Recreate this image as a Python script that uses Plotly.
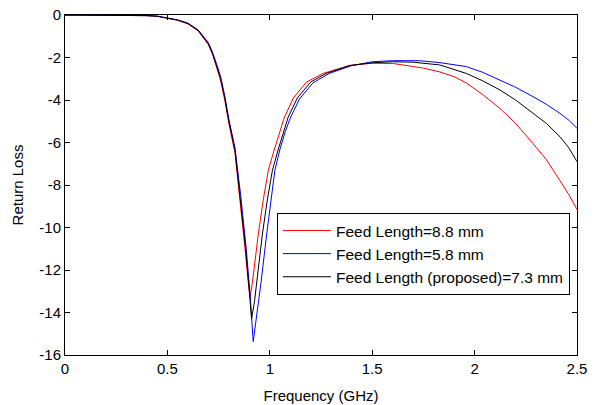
import plotly.graph_objects as go

# Feed Length = 8.8 mm (red)
freq_88 = [0, 0.3, 0.4, 0.45, 0.5, 0.55, 0.6, 0.65, 0.7, 0.72, 0.74, 0.76, 0.78, 0.8,
           0.83, 0.855, 0.879, 0.895, 0.903, 0.915, 0.944, 0.968, 0.993, 1.02, 1.045,
           1.07, 1.115, 1.18, 1.26, 1.39, 1.5, 1.6, 1.67, 1.75, 1.83, 1.9, 1.96, 2.04,
           2.124, 2.2, 2.285, 2.35, 2.417, 2.46, 2.5]
rl_88 = [0, 0, -0.03, -0.06, -0.15, -0.25, -0.42, -0.75, -1.4, -1.85, -2.45, -3.1, -4.0, -5.1,
         -6.5, -8.7, -11.0, -12.6, -13.3, -12.6, -10.3, -8.7, -7.3, -6.4, -5.6,
         -4.85, -3.9, -3.15, -2.75, -2.37, -2.27, -2.28, -2.38, -2.5, -2.68, -2.9, -3.2, -3.75,
         -4.4, -5.1, -6.05, -6.8, -7.8, -8.45, -9.15]

# Feed Length = 5.8 mm (blue)
freq_58 = [0, 0.3, 0.4, 0.45, 0.5, 0.55, 0.6, 0.65, 0.7, 0.72, 0.74, 0.76, 0.78, 0.8,
           0.83, 0.858, 0.885, 0.905, 0.919, 0.935, 0.957, 0.985, 1.005, 1.025, 1.05,
           1.075, 1.1, 1.145, 1.21, 1.29, 1.4, 1.5, 1.6, 1.73, 1.83, 1.96, 2.04,
           2.124, 2.2, 2.285, 2.35, 2.417, 2.46, 2.5]
rl_58 = [0, 0, -0.03, -0.05, -0.13, -0.23, -0.38, -0.7, -1.3, -1.75, -2.3, -2.9, -3.8, -4.9,
         -6.25, -8.5, -11.0, -13.3, -15.37, -14.3, -12.6, -10.3, -8.7, -7.3, -6.3,
         -5.5, -4.85, -3.95, -3.2, -2.75, -2.38, -2.2, -2.15, -2.15, -2.24, -2.43, -2.7,
         -3.06, -3.4, -3.84, -4.2, -4.63, -4.95, -5.33]

# Feed Length (proposed) = 7.3 mm (black)
freq_73 = [0, 0.3, 0.4, 0.45, 0.5, 0.55, 0.6, 0.65, 0.7, 0.72, 0.74, 0.76, 0.78, 0.8,
           0.83, 0.855, 0.882, 0.9, 0.911, 0.925, 0.935, 0.964, 0.988, 1.013, 1.042,
           1.066, 1.09, 1.135, 1.2, 1.275, 1.39, 1.5, 1.6, 1.7, 1.83, 1.96, 2.04,
           2.124, 2.2, 2.285, 2.35, 2.417, 2.46, 2.5]
rl_73 = [0, 0, -0.03, -0.06, -0.14, -0.24, -0.4, -0.72, -1.35, -1.8, -2.4, -3.0, -3.9, -5.0,
         -6.35, -8.5, -11.0, -13.0, -14.3, -13.5, -12.6, -10.3, -8.7, -7.3, -6.3,
         -5.5, -4.8, -3.9, -3.15, -2.75, -2.38, -2.25, -2.2, -2.22, -2.35, -2.75, -3.1,
         -3.53, -4.0, -4.62, -5.1, -5.73, -6.25, -6.9]

x_tick_vals = [0, 0.5, 1, 1.5, 2, 2.5]
x_tick_text = ["0", "0.5", "1", "1.5", "2", "2.5"]
y_tick_vals = [0, -2, -4, -6, -8, -10, -12, -14, -16]
y_tick_text = ["0", "-2", "-4", "-6", "-8", "-10", "-12", "-14", "-16"]

FONT = "Liberation Sans, Arial, sans-serif"

fig = go.Figure()
fig.add_trace(go.Scatter(x=freq_88, y=rl_88, mode="lines", name="Feed Length=8.8 mm",
                         line=dict(color="#ff0000", width=1)))
fig.add_trace(go.Scatter(x=freq_58, y=rl_58, mode="lines", name="Feed Length=5.8 mm",
                         line=dict(color="#0000ff", width=1)))
fig.add_trace(go.Scatter(x=freq_73, y=rl_73, mode="lines", name="Feed Length (proposed)=7.3 mm",
                         line=dict(color="#000000", width=1)))

axis_common = dict(showgrid=False, zeroline=False, showline=True, linecolor="#000000",
                   linewidth=1, mirror="allticks", ticks="inside", ticklen=5,
                   tickcolor="#000000", automargin=False, ticklabeloverflow="allow",
                   tickfont=dict(family=FONT, size=15, color="#000000"))

fig.update_xaxes(range=[0, 2.5], tickvals=x_tick_vals, ticktext=x_tick_text,
                 title=dict(text="Frequency (GHz)", standoff=14,
                            font=dict(family=FONT, size=15, color="#000000")),
                 **axis_common)
fig.update_yaxes(range=[-16, 0], tickvals=y_tick_vals, ticktext=y_tick_text,
                 title=dict(text="Return Loss", standoff=12,
                            font=dict(family=FONT, size=15, color="#000000")),
                 **axis_common)

fig.update_layout(
    width=602, height=405,
    margin=dict(l=65, r=25, t=15, b=50),
    paper_bgcolor="white", plot_bgcolor="white",
    font=dict(family=FONT, size=15, color="#000000"),
    showlegend=True,
    legend=dict(x=0.414, y=0.418, xanchor="left", yanchor="top",
                bgcolor="white", bordercolor="#000000", borderwidth=1,
                font=dict(family=FONT, size=15.5, color="#000000"),
                itemwidth=48, tracegroupgap=0),
)

fig.write_html("out.html", config={"displayModeBar": False},
               post_script="document.body.style.margin='0';document.body.style.overflow='hidden';")
